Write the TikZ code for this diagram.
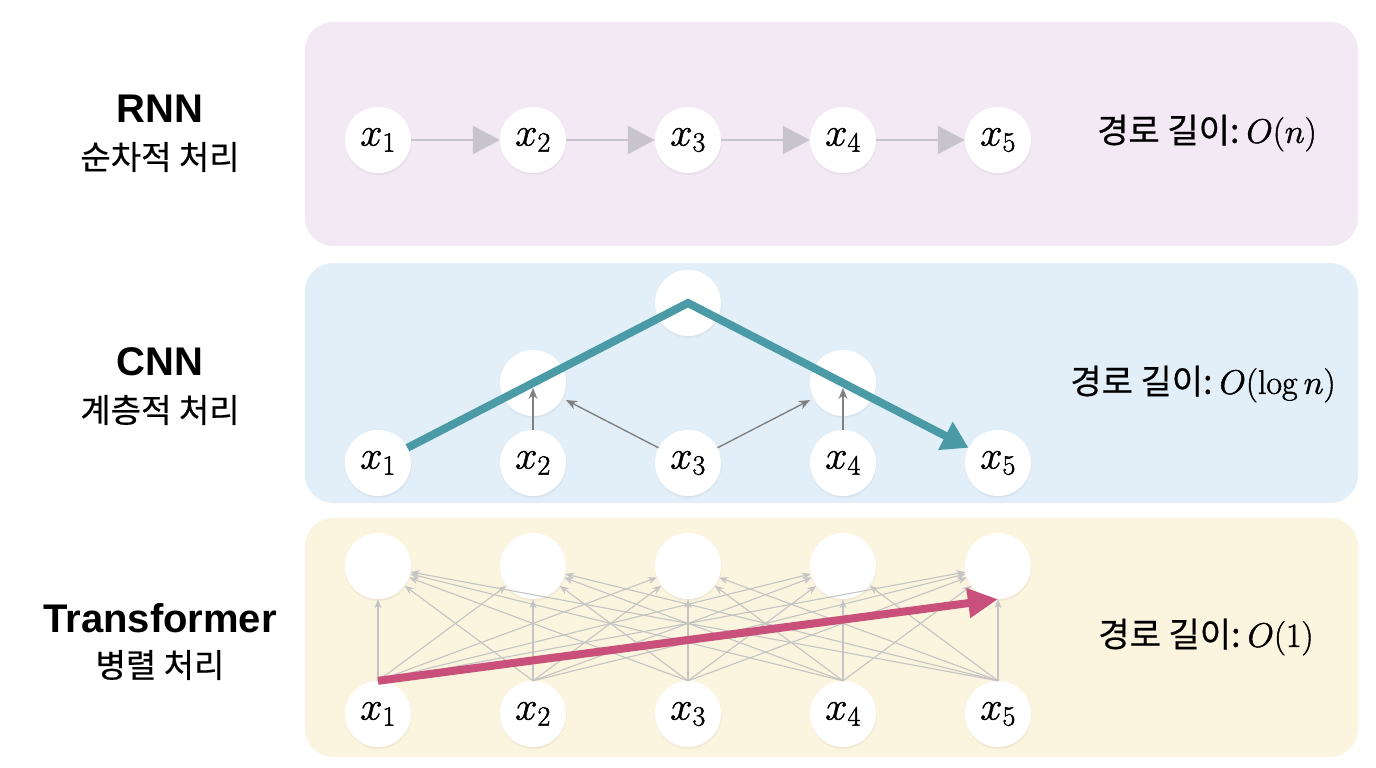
\RequirePackage{fix-cm}
\documentclass[tikz,border=0pt]{standalone}
\usepackage[no-math]{fontspec}
\setmainfont{Liberation Sans}
\newfontfamily\kr{Noto Sans CJK KR}[FakeBold=0.5]
\usetikzlibrary{arrows.meta,shadows}
\definecolor{rnnbg}{RGB}{243,233,245}
\definecolor{cnnbg}{RGB}{226,239,249}
\definecolor{trbg}{RGB}{251,244,222}
\definecolor{tealpath}{RGB}{74,155,166}
\definecolor{pinkpath}{RGB}{200,80,122}
\definecolor{rnnarrow}{RGB}{200,196,206}
\definecolor{cnnarrow}{RGB}{128,128,128}
\definecolor{trarrow}{RGB}{196,196,196}
\newcommand\heavymath[1]{\special{pdf:literal direct 2 Tr 0.45 w}#1\special{pdf:literal direct 0 Tr}}
\begin{document}
\begin{tikzpicture}[x=1pt,y=-1pt,
  tok/.style={circle, fill=white, minimum size=66pt, inner sep=0pt,
    font=\fontsize{40}{42}\selectfont,
    circular drop shadow={shadow xshift=0pt, shadow yshift=-1.5pt, shadow scale=1.03, opacity=0.10, fill=black}},
  panel/.style={rounded corners=28pt},
  title/.style={font=\fontsize{40}{42}\selectfont\bfseries, anchor=center},
  sub/.style={font=\fontsize{33}{36}\selectfont\kr, anchor=center},
  lbl/.style={font=\fontsize{34}{36}\selectfont, anchor=center},
  rnnar/.style={draw=rnnarrow, line width=2.5pt, -{Triangle[length=27pt,width=28pt]}},
  cnnar/.style={draw=cnnarrow, line width=1.4pt, -{Stealth[length=11pt,width=9pt]}},
  trar/.style={draw=trarrow, line width=1.1pt, -{Stealth[length=9pt,width=7pt]}},
  tealar/.style={draw=tealpath, line width=8pt, -{Triangle[length=26pt,width=30pt]}},
  pinkar/.style={draw=pinkpath, line width=8pt, -{Triangle[length=30pt,width=28pt]}}
]
\useasboundingbox[fill=white] (0,0) rectangle (1376,768);
% panels
\fill[rnnbg, panel] (305,22) rectangle (1358,246);
\fill[cnnbg, panel] (305,263) rectangle (1358,503);
\fill[trbg, panel] (305,518) rectangle (1358,757);

% left labels
\node[title] (tRNN) at (160,109) {RNN};
\node[sub] (sRNN) at (160,157) {순차적 처리};
\node[title] (tCNN) at (160,362) {CNN};
\node[sub] (sCNN) at (160,410) {계층적 처리};
\node[title] (tTR) at (160,618) {Transformer};
\node[sub] (sTR) at (160,665) {병렬 처리};

% right labels
\node[lbl] (lRNN) at (1207,133) {{\kr 경로 길이:}\heavymath{\hspace{7pt}$O(n)$}};
\node[lbl] (lCNN) at (1203,384) {{\kr 경로 길이:}\heavymath{\hspace{7pt}$O(\log n)$}};
\node[lbl] (lTR) at (1206,637) {{\kr 경로 길이:}\heavymath{\hspace{7pt}$O(1)$}};

% RNN
\foreach \i/\x in {1/378,2/533,3/688,4/843,5/998}
  \node[tok] (r\i) at (\x,140) {\heavymath{$x_{\i}$}};
\foreach \i/\j in {1/2,2/3,3/4,4/5}
  \draw[rnnar] (r\i) -- (r\j);

% CNN
\foreach \i/\x in {1/378,2/533,3/688,4/843,5/998}
  \node[tok] (c\i) at (\x,463) {\heavymath{$x_{\i}$}};
\node[tok] (m2) at (533,383) {};
\node[tok] (m4) at (843,383) {};
\node[tok] (top) at (688,303) {};
\draw[cnnar, shorten >=5pt] (c2.north) -- (m2.center);
\draw[cnnar, shorten >=5pt] (c4.north) -- (m4.center);
\draw[cnnar, shorten >=4pt] (c3) -- (m2);
\draw[cnnar, shorten >=4pt] (c3) -- (m4);
\draw[tealar] (c1) -- (top.center) -- (c5);

% Transformer
\foreach \i/\x in {1/378,2/533,3/688,4/843,5/998}{
  \node[tok] (t\i) at (\x,566) {};
  \node[tok] (b\i) at (\x,714) {\heavymath{$x_{\i}$}};
}
\foreach \i in {1,...,5}
  \foreach \j in {1,...,5}
    \draw[trar] (b\i.north) -- (t\j);
\draw[pinkar] (b1.north) -- (t5.south);
\end{tikzpicture}
\end{document}
